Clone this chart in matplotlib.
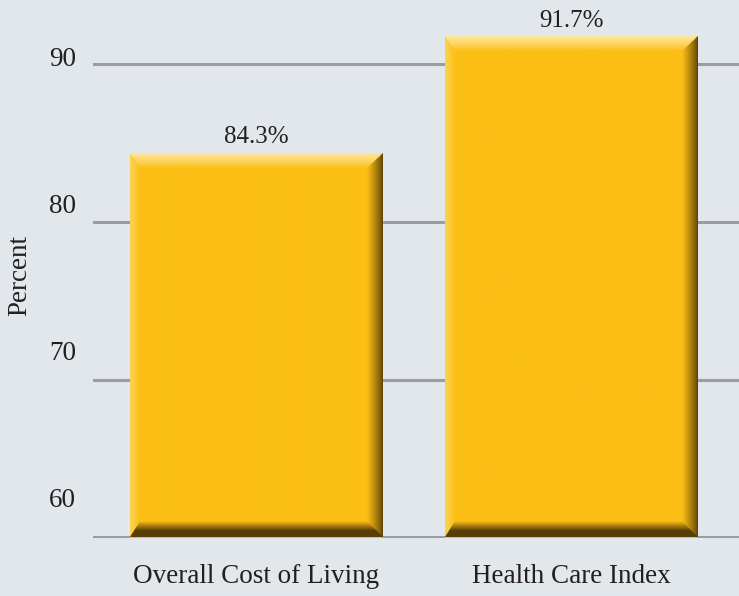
import numpy as np
import matplotlib
matplotlib.use("Agg")
import matplotlib.pyplot as plt

categories = ["Overall Cost of Living", "Health Care Index"]
values = [84.3, 91.7]
value_labels = ["84.3%", "91.7%"]
y_ticks = [60, 70, 80, 90]

bg = "#e2e7ec"
txt = "#231f20"
base = np.array([252, 191, 22]) / 255
light_top = np.array([254, 230, 155]) / 255
light_left = np.array([253, 210, 85]) / 255
dark = np.array([88, 62, 6]) / 255

plt.rcParams["font.family"] = ["Liberation Serif", "DejaVu Serif"]

fig = plt.figure(figsize=(7.39, 5.96), dpi=100, facecolor=bg)
W, H = 739, 596
ax = fig.add_axes([93 / W, (H - 537.5) / H, 1 - 93 / W, 537.5 / H])
ax.set_facecolor(bg)
ax.set_xlim(-0.517, 1.533)
ax.set_ylim(60, 94.05)

for t in y_ticks:
    ax.axhline(t, color="#9a9ea3", lw=2.2, zorder=1)

x = np.arange(len(categories))
bars = ax.bar(x, [v - 60 for v in values], bottom=60, width=0.8, color=base, zorder=2)


def bevel_img(nx, ny, k_res=3):
    # distances from each edge in screen pixels, sampled k_res times per pixel
    xx, yy = np.meshgrid((np.arange(nx * k_res) + 0.5) / k_res,
                         (np.arange(ny * k_res) + 0.5) / k_res)
    dl, dr = xx, nx - xx
    dt, db = yy, ny - yy
    wl, wr, wt, wb = 10.0, 16.0, 15.0, 16.0
    n = np.stack([dl / wl, dr / wr, dt / wt, db / wb])
    which = np.argmin(n, axis=0)
    tn = np.clip(np.min(n, axis=0), 0, 1)
    img = np.tile(base, (ny * k_res, nx * k_res, 1)).astype(float)
    for k in range(4):
        m = (which == k) & (tn < 1)
        t = tn[m][:, None]
        if k == 0:
            c = light_left * (1 - t) + base * t
        elif k == 1:
            s = t ** 0.8
            c = dark * (1 - s) + base * s
        elif k == 2:
            s = t ** 1.2
            c = light_top * (1 - s) + base * s
        else:
            s = np.clip((t - 0.4) / 0.6, 0, 1)
            c = dark * (1 - s) + base * s
        img[m] = c
    return img


for b in bars:
    x0, y0 = b.get_x(), b.get_y()
    x1, y1 = x0 + b.get_width(), y0 + b.get_height()
    p0 = ax.transData.transform((x0, y0))
    p1 = ax.transData.transform((x1, y1))
    nx, ny = int(round(p1[0] - p0[0])), int(round(p1[1] - p0[1]))
    ax.imshow(bevel_img(nx, ny), extent=(x0, x1, y0, y1), aspect="auto",
              origin="upper", zorder=3, interpolation="antialiased")

for xi, v, lab in zip(x, values, value_labels):
    ax.annotate(lab, (xi, v), xytext=(0, 4), textcoords="offset points",
                ha="center", va="bottom", fontsize=18, color=txt, zorder=4)

ax.set_yticks([])
ax.set_xticks(x)
ax.set_xticklabels(categories, fontsize=19.5, color=txt)
ax.tick_params(axis="x", length=0, pad=19)
for s in ax.spines.values():
    s.set_visible(False)

# tick labels sit on a slightly different scale than the gridlines
ax2 = ax.twinx()
ax2.set_ylim(57.245, 93.81)
ax2.yaxis.set_ticks_position("left")
ax2.set_yticks(y_ticks)
ax2.set_yticklabels([str(t) for t in y_ticks], fontsize=19.5, color=txt)
ax2.tick_params(axis="y", length=0, pad=12)
ax2.patch.set_visible(False)
for s in ax2.spines.values():
    s.set_visible(False)

fig.text(20 / W, 1 - 276 / H, "Percent", rotation=90, ha="center", va="center",
         fontsize=19.5, color=txt)

ax.set_xlim(-0.517, 1.533)
ax.set_ylim(60, 94.05)
fig.savefig("out.png", dpi=100, facecolor=bg)
